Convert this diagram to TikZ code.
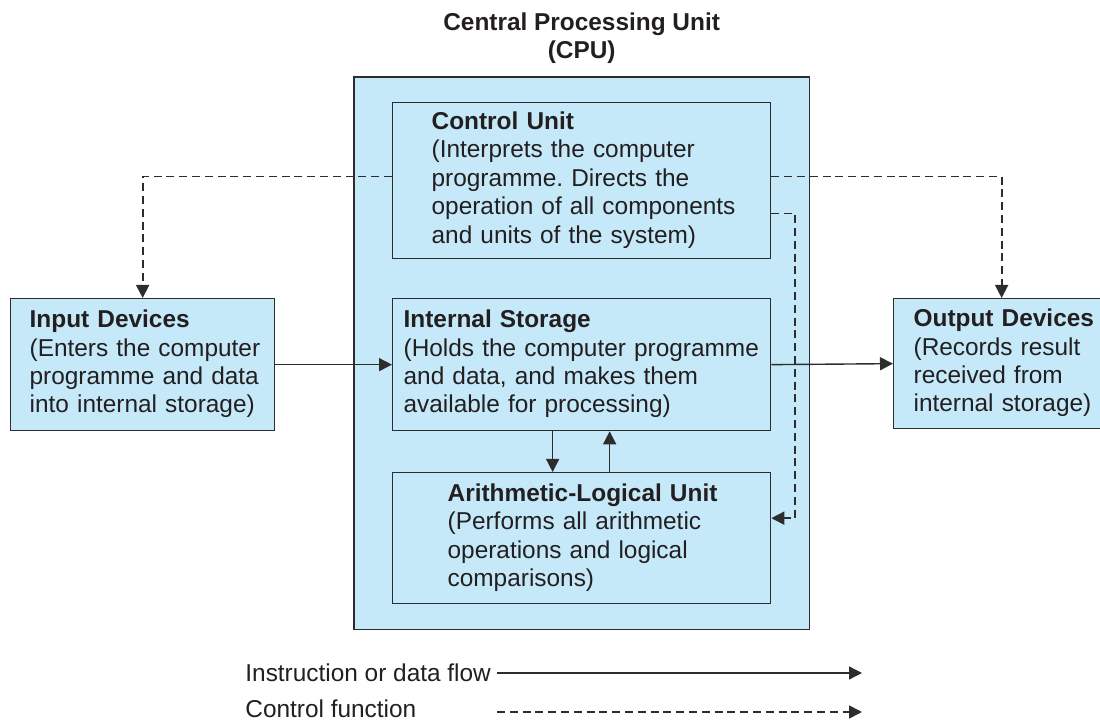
\documentclass[tikz,border=0pt]{standalone}
\usepackage{fontspec}
\setmainfont{Liberation Sans}
\usetikzlibrary{fit, positioning, backgrounds, arrows.meta}

\definecolor{cpublue}{RGB}{197,233,249}
\definecolor{edgegray}{RGB}{45,45,45}
\definecolor{inkgray}{RGB}{35,31,32}

\tikzset{
  unit/.style={draw=edgegray, line width=0.65pt, fill=cpublue, anchor=north west,
    inner sep=0pt, align=left, text=inkgray},
  flow/.style={draw=edgegray, line width=0.7pt, -{Triangle[length=6.5pt,width=6.5pt]}},
  ctrl/.style={flow, line width=0.85pt, dash pattern=on 4pt off 2.4pt}
}

\begin{document}
\frenchspacing
\begin{tikzpicture}[x=0.5pt, y=-0.5pt, font=\fontsize{12.2}{14.2}\selectfont]
  \useasboundingbox (0,0) rectangle (1100,721);

  % Units inside the processor
  \node[unit, minimum width=189pt, minimum height=78pt, text width=150pt] (cu) at (392,102) {%
    \begin{tabular}{@{}l@{}}
      \textbf{Control Unit} \\
      (Interprets the computer \\
      programme. Directs the \\
      operation of all components \\
      and units of the system)
    \end{tabular}};
  \node[unit, minimum width=189pt, minimum height=66pt, text width=178pt] (is) at (392,298) {%
    \begin{tabular}{@{}l@{}}
      \textbf{Internal Storage} \\
      (Holds the computer programme \\
      and data, and makes them \\
      available for processing)
    \end{tabular}};
  \node[unit, minimum width=189pt, minimum height=65.5pt, text width=134pt] (alu) at (392,472) {%
    \begin{tabular}{@{}l@{}}
      \textbf{Arithmetic-Logical Unit} \\
      (Performs all arithmetic \\
      operations and logical \\
      comparisons)
    \end{tabular}};

  % Processor frame behind the units
  \begin{scope}[on background layer]
    \node[draw=edgegray, line width=0.65pt, fill=cpublue, fit=(cu) (alu),
      inner xsep=19pt, inner ysep=12.5pt] (cpu) {};
  \end{scope}
  \node[font=\fontsize{12.2}{14.2}\selectfont\bfseries, text=inkgray, align=center,
    inner sep=0pt, above=6pt of cpu] (cputitle) {Central Processing Unit\\(CPU)};

  % Peripherals
  \node[unit, minimum width=132pt, minimum height=66pt, text width=113pt] (in) at (10,298) {%
    \begin{tabular}{@{}l@{}}
      \textbf{Input Devices} \\
      (Enters the computer \\
      programme and data \\
      into internal storage)
    \end{tabular}};
  \node[unit, minimum width=108pt, minimum height=65pt, text width=88pt] (out) at (893,298) {%
    \begin{tabular}{@{}l@{}}
      \textbf{Output Devices} \\
      (Records result \\
      received from \\
      internal storage)
    \end{tabular}};

  % Data paths
  \draw[flow] (in.east) -- (is.west);
  \draw[flow] (is.east) -- (out.west);
  \draw[flow] ([xshift=-14.5pt]is.south) -- ([xshift=-14.5pt]is.south |- alu.north);
  \draw[flow] ([xshift=14pt]alu.north) -- ([xshift=14pt]alu.north |- is.south);

  % Control lines
  \draw[ctrl] ([yshift=2pt]cu.west) -| (in.north);
  \draw[ctrl] ([yshift=2pt]cu.east) -| (out.north);
  \draw[ctrl] ([yshift=-16.5pt]cu.east) -- ++(24,0) |- ([yshift=10pt]alu.east);

  % Legend
  \node[anchor=base west, inner sep=0pt, text=inkgray] (keyflow) at (245,682) {Instruction or data flow};
  \node[anchor=base west, inner sep=0pt, text=inkgray] (keyctrl) at (245,718) {Control function};
  \coordinate (flowa) at (497,673);
  \coordinate (flowb) at (862,673);
  \coordinate (ctrla) at (497,712);
  \coordinate (ctrlb) at (862,712);
  \draw[flow] (flowa) -- (flowb);
  \draw[ctrl] (ctrla) -- (ctrlb);
\end{tikzpicture}
\end{document}
